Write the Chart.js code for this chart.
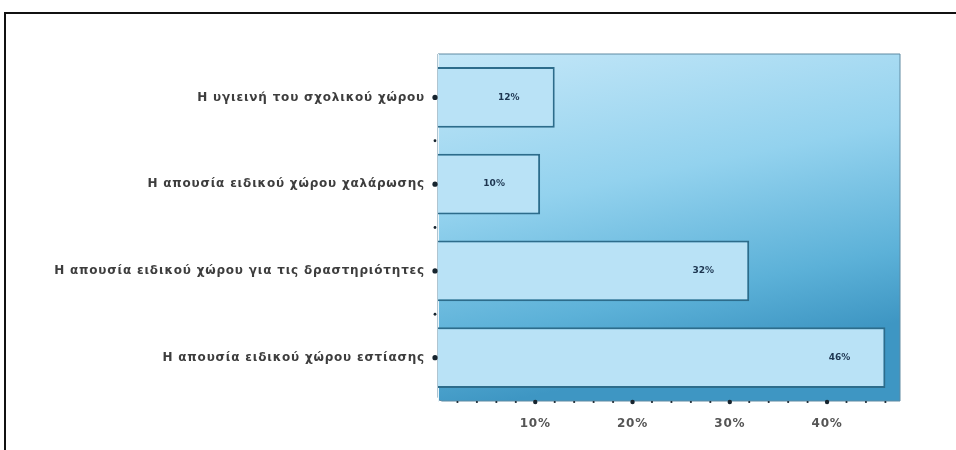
<!DOCTYPE html>
<html>
<head>
<meta charset="utf-8">
<script src="https://cdn.jsdelivr.net/npm/chart.js@4.4.1/dist/chart.umd.min.js"></script>
<style>
  html, body { margin: 0; padding: 0; background: #fff; }
  #wrap { position: relative; width: 956px; height: 450px; }
  #frame { position: absolute; left: 4px; top: 12px; right: 0; bottom: 0;
           border-top: 2px solid #111; border-left: 2px solid #111; pointer-events: none; }
</style>
</head>
<body>
<div id="wrap">
  <canvas id="chart" width="956" height="450"></canvas>
  <div id="frame"></div>
</div>
<script>
// κατηγορίες και τιμές (%)
const categories = [
  'Η υγιεινή του σχολικού χώρου',
  'Η απουσία ειδικού χώρου χαλάρωσης',
  'Η απουσία ειδικού χώρου για τις δραστηριότητες',
  'Η απουσία ειδικού χώρου εστίασης'
];
const values = [12, 10.5, 32, 46];
const valueLabels = ['12%', '10%', '32%', '46%'];
const xMax = 47.5;
const xTicks = [10, 20, 30, 40];

// φόντο περιοχής γραφήματος με διαβάθμιση
const plotBackground = {
  id: 'plotBackground',
  beforeDraw(chart) {
    const { ctx, chartArea: a } = chart;
    const g = ctx.createLinearGradient(a.left, a.top, a.left + 70, a.bottom);
    g.addColorStop(0, '#c4e7f8');
    g.addColorStop(0.45, '#93d2ee');
    g.addColorStop(0.8, '#5cb1d8');
    g.addColorStop(1, '#3e96c3');
    ctx.save();
    ctx.fillStyle = g;
    ctx.strokeStyle = '#5f8aa2';
    ctx.lineWidth = 1;
    ctx.beginPath();
    ctx.roundRect(a.left, a.top, a.right - a.left, a.bottom - a.top, [0, 0, 0, 4]);
    ctx.fill();
    ctx.stroke();
    ctx.restore();
    ctx.letterSpacing = '0.8px';
  }
};

// σημάδια αξόνων (κουκκίδες) και ετικέτες τιμών
const marks = {
  id: 'marks',
  afterDatasetsDraw(chart) {
    const { ctx, chartArea: a } = chart;
    const xs = chart.scales.x, ys = chart.scales.y;
    ctx.save();
    ctx.fillStyle = '#17242e';
    const dot = (x, y, r) => { ctx.beginPath(); ctx.arc(x, y, r, 0, Math.PI * 2); ctx.fill(); };
    for (let v = 2; v < xMax; v += 2) {
      dot(xs.getPixelForValue(v), a.bottom + 1, v % 10 === 0 ? 2.2 : 1.1);
    }
    categories.forEach((c, i) => {
      dot(a.left - 3, ys.getPixelForValue(i), 2.6);
      if (i > 0) dot(a.left - 3, ys.getPixelForValue(i - 0.5), 1.4);
    });
    ctx.letterSpacing = '0px';
    ctx.font = 'bold 9px "DejaVu Sans", sans-serif';
    ctx.fillStyle = '#1d3550';
    ctx.textAlign = 'center';
    ctx.textBaseline = 'middle';
    chart.getDatasetMeta(0).data.forEach((bar, i) => {
      ctx.fillText(valueLabels[i], bar.x - 46, bar.y);
    });
    ctx.restore();
  }
};

new Chart(document.getElementById('chart'), {
  type: 'bar',
  data: {
    labels: categories,
    datasets: [{
      data: values,
      backgroundColor: '#b9e2f6',
      borderColor: '#2d6c8b',
      borderWidth: 2,
      borderSkipped: 'start',
      barPercentage: 0.7,
      categoryPercentage: 1
    }]
  },
  options: {
    indexAxis: 'y',
    responsive: false,
    animation: false,
    layout: { padding: { top: 54, right: 56, left: 0, bottom: 0 } },
    plugins: { legend: { display: false }, tooltip: { enabled: false } },
    scales: {
      x: {
        min: 0,
        max: xMax,
        afterFit: s => { s.height = 49; },
        afterBuildTicks: s => { s.ticks = xTicks.map(v => ({ value: v })); },
        border: { display: false },
        grid: { display: false },
        ticks: {
          autoSkip: false,
          maxRotation: 0,
          padding: 8,
          color: '#555',
          font: { family: '"DejaVu Sans", sans-serif', size: 12, weight: 'bold' },
          callback: v => v + '%'
        }
      },
      y: {
        afterFit: s => { s.width = 438; },
        border: { display: true, color: '#e8f4fa', width: 1 },
        grid: { display: false },
        ticks: {
          padding: 5,
          color: '#3d3d3d',
          font: { family: '"DejaVu Sans", sans-serif', size: 12, weight: 'bold' }
        }
      }
    }
  },
  plugins: [plotBackground, marks]
});
</script>
</body>
</html>
